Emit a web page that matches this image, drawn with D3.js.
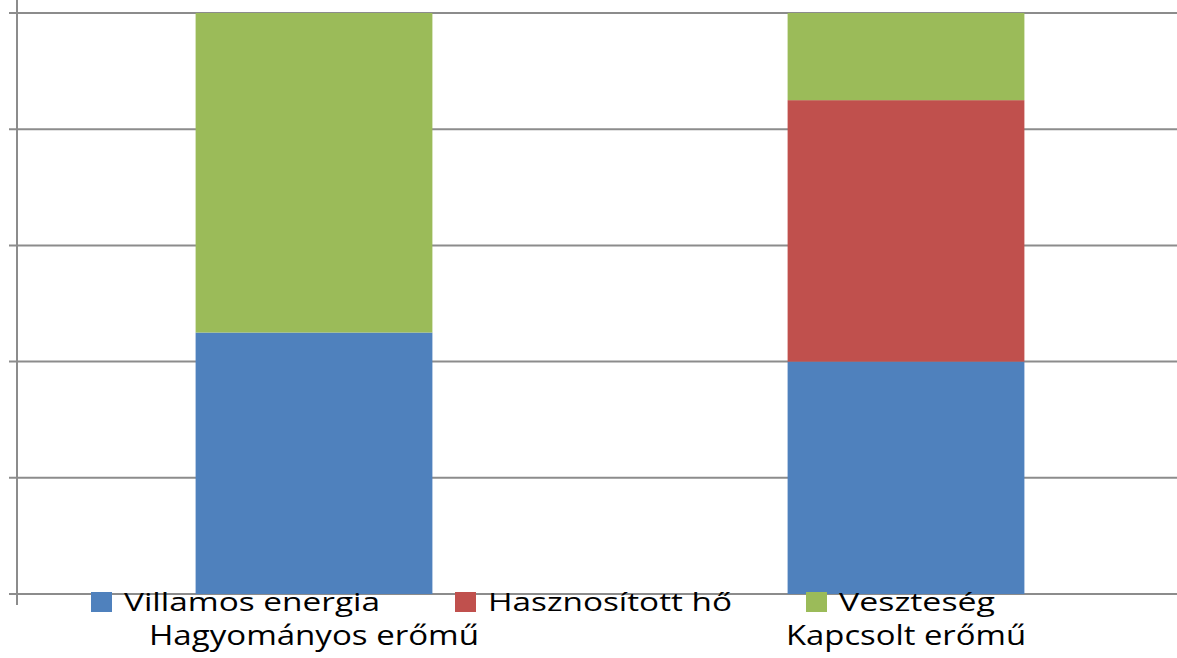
<!DOCTYPE html>
<html>
<head>
<meta charset="utf-8">
<script src="https://d3js.org/d3.v7.min.js"></script>
<style>
  html, body { margin: 0; padding: 0; background: #fff; }
  svg { display: block; }
  text { font-family: "Open Sans", "Noto Sans", sans-serif; fill: #000; }
</style>
</head>
<body>
<svg id="chart" width="1177" height="658"></svg>
<script>
const categories = ["Hagyományos erőmű", "Kapcsolt erőmű"];
const seriesNames = ["Villamos energia", "Hasznosított hő", "Veszteség"];
const villamos = [45, 40];
const hasznositott = [0, 45];
const veszteseg = [55, 15];
const yTicks = [0, 20, 40, 60, 80, 100];
const colors = ["#4F81BD", "#C0504D", "#9BBB59"];

(function () {
const svg = d3.select("#chart");
const W = 1177;
const mLeft = 18, mRight = 1202, mTop = 13, mBottom = 594;

const x = d3.scaleBand().domain(categories).range([mLeft, mRight]).paddingInner(0.6).paddingOuter(0.3);
const y = d3.scaleLinear().domain([0, 100]).range([mBottom, mTop]);

const rows = categories.map((c, i) => ({cat: c, v0: villamos[i], v1: hasznositott[i], v2: veszteseg[i]}));
const stack = d3.stack().keys(["v0", "v1", "v2"])(rows);

// gridlines
svg.append("g").selectAll("line").data(yTicks).join("line")
  .attr("x1", 9).attr("x2", W)
  .attr("y1", d => y(d)).attr("y2", d => y(d))
  .attr("stroke", "#8c8c8c").attr("stroke-width", 2);

// bars
stack.forEach((layer, si) => {
  svg.append("g").attr("fill", colors[si]).selectAll("rect").data(layer).join("rect")
    .attr("x", d => x(d.data.cat))
    .attr("width", x.bandwidth())
    .attr("y", d => y(d[1]))
    .attr("height", d => Math.max(0, y(d[0]) - y(d[1])));
});

// y axis line
svg.append("line").attr("x1", 17).attr("x2", 17).attr("y1", 0).attr("y2", 605)
  .attr("stroke", "#8c8c8c").attr("stroke-width", 2);

// category labels
const catWidths = [330, 240];
svg.append("g").selectAll("text").data(categories).join("text")
  .attr("x", d => x(d) + x.bandwidth() / 2)
  .attr("y", 645)
  .attr("text-anchor", "middle")
  .attr("font-size", 28)
  .attr("textLength", (d, i) => catWidths[i])
  .attr("lengthAdjust", "spacingAndGlyphs")
  .text(d => d);

// legend
const legX = [91, 455, 806];
const legW = [256, 244, 156];
const lg = svg.append("g").selectAll("g").data(seriesNames).join("g")
  .attr("transform", (d, i) => `translate(${legX[i]},0)`);
lg.append("rect").attr("x", 0).attr("y", 592).attr("width", 21).attr("height", 20)
  .attr("fill", (d, i) => colors[i]);
lg.append("text").attr("x", 33).attr("y", 611)
  .attr("font-size", 26)
  .attr("textLength", (d, i) => legW[i])
  .attr("lengthAdjust", "spacingAndGlyphs")
  .text(d => d);
})();
</script>
</body>
</html>
